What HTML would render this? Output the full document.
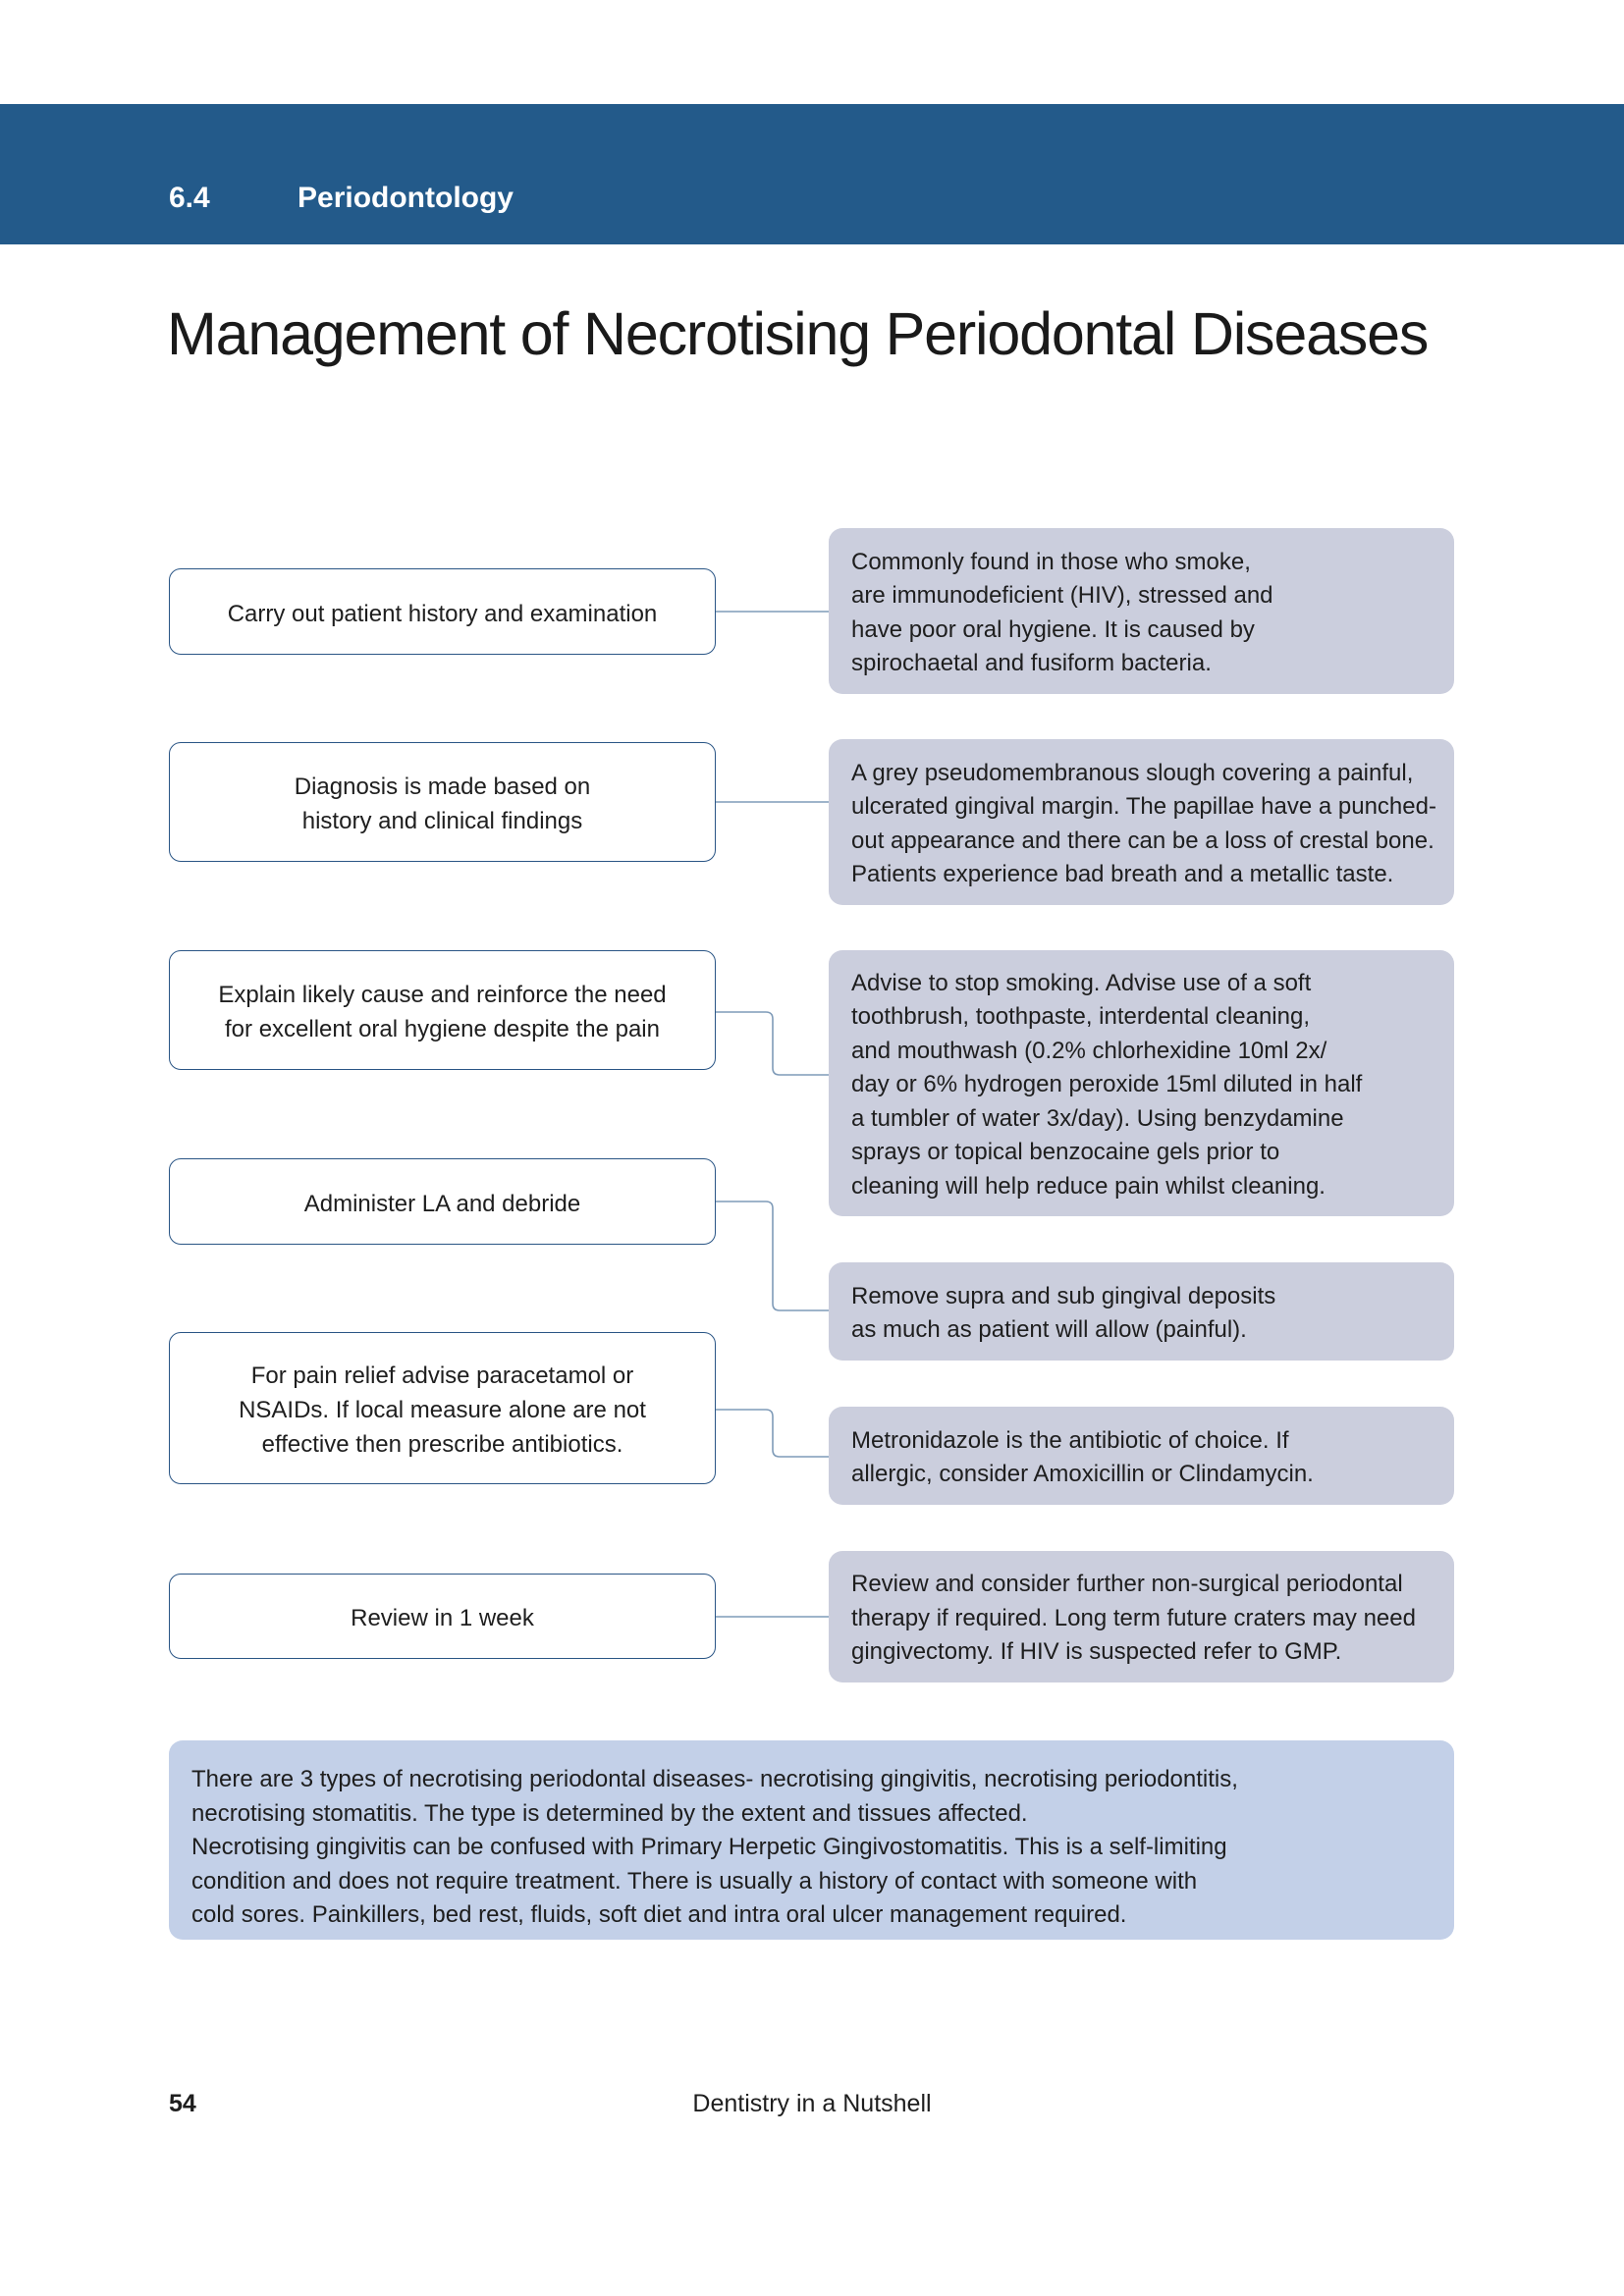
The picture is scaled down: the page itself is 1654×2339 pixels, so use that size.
<!DOCTYPE html>
<html><head><meta charset="utf-8"><style>
*{margin:0;padding:0;box-sizing:border-box}
body{width:1654px;height:2339px;background:#fff;position:relative;font-family:"Liberation Sans",Arial,sans-serif;color:#1e1e1e;overflow:hidden}
.hdr{position:absolute;left:0;top:106px;width:1654px;height:143px;background:#235a8a}
.hdr span{position:absolute;top:76px;font-size:30px;font-weight:bold;color:#fff;line-height:40px}
.title{position:absolute;left:170px;top:300px;font-size:61px;font-weight:normal;color:#1a1a1a;letter-spacing:-1.2px;line-height:80px}
.l{position:absolute;left:172px;width:557px;border:1.8px solid #2a5585;border-radius:12px;display:flex;align-items:center;justify-content:center;text-align:center;font-size:24px;line-height:35px;background:#fff;padding-top:4px}
.r{position:absolute;left:844px;width:637px;background:#cbcedd;border-radius:14px;display:flex;align-items:center;padding-left:23px;font-size:24px;line-height:34.5px;padding-top:4px}
.b{position:absolute;left:172px;top:1773px;width:1309px;height:203px;background:#c3d0e8;border-radius:14px;padding:23px 0 0 23px;font-size:24px;line-height:34.5px}
svg{position:absolute;left:0;top:0}
</style></head><body>
<div class="hdr"><span style="left:172px">6.4</span><span style="left:303px">Periodontology</span></div>
<div class="title">Management of Necrotising Periodontal Diseases</div>
<svg width="1654" height="2339"><g fill="none" stroke="#7f9bb8" stroke-width="1.6">
<path d="M729 623H844"/><path d="M729 817H844"/>
<path d="M729 1031H780q7 0 7 7V1088q0 7 7 7H844"/>
<path d="M729 1224H780q7 0 7 7V1328q0 7 7 7H844"/>
<path d="M729 1436H780q7 0 7 7V1477q0 7 7 7H844"/>
<path d="M729 1647H844"/></g></svg>
<div class="l" style="top:579px;height:88px">Carry out patient history and examination</div>
<div class="r" style="top:538px;height:169px">Commonly found in those who smoke,<br>are immunodeficient (HIV), stressed and<br>have poor oral hygiene. It is caused by<br>spirochaetal and fusiform bacteria.</div>
<div class="l" style="top:756px;height:122px">Diagnosis is made based on<br>history and clinical findings</div>
<div class="r" style="top:753px;height:169px">A grey pseudomembranous slough covering a painful,<br>ulcerated gingival margin. The papillae have a punched-<br>out appearance and there can be a loss of crestal bone.<br>Patients experience bad breath and a metallic taste.</div>
<div class="l" style="top:968px;height:122px">Explain likely cause and reinforce the need<br>for excellent oral hygiene despite the pain</div>
<div class="r" style="top:968px;height:271px">Advise to stop smoking. Advise use of a soft<br>toothbrush, toothpaste, interdental cleaning,<br>and mouthwash (0.2% chlorhexidine 10ml 2x/<br>day or 6% hydrogen peroxide 15ml diluted in half<br>a tumbler of water 3x/day). Using benzydamine<br>sprays or topical benzocaine gels prior to<br>cleaning will help reduce pain whilst cleaning.</div>
<div class="l" style="top:1180px;height:88px">Administer LA and debride</div>
<div class="r" style="top:1286px;height:100px">Remove supra and sub gingival deposits<br>as much as patient will allow (painful).</div>
<div class="l" style="top:1357px;height:155px">For pain relief advise paracetamol or<br>NSAIDs. If local measure alone are not<br>effective then prescribe antibiotics.</div>
<div class="r" style="top:1433px;height:100px">Metronidazole is the antibiotic of choice. If<br>allergic, consider Amoxicillin or Clindamycin.</div>
<div class="l" style="top:1603px;height:87px">Review in 1 week</div>
<div class="r" style="top:1580px;height:134px">Review and consider further non-surgical periodontal<br>therapy if required. Long term future craters may need<br>gingivectomy. If HIV is suspected refer to GMP.</div>
<div class="b">There are 3 types of necrotising periodontal diseases- necrotising gingivitis, necrotising periodontitis,<br>necrotising stomatitis. The type is determined by the extent and tissues affected.<br>Necrotising gingivitis can be confused with Primary Herpetic Gingivostomatitis. This is a self-limiting<br>condition and does not require treatment. There is usually a history of contact with someone with<br>cold sores. Painkillers, bed rest, fluids, soft diet and intra oral ulcer management required.</div>
<div style="position:absolute;left:172px;top:2128px;font-size:25px;font-weight:bold;line-height:30px">54</div>
<div style="position:absolute;left:0;width:1654px;text-align:center;top:2128px;font-size:25px;line-height:30px">Dentistry in a Nutshell</div>
</body></html>
